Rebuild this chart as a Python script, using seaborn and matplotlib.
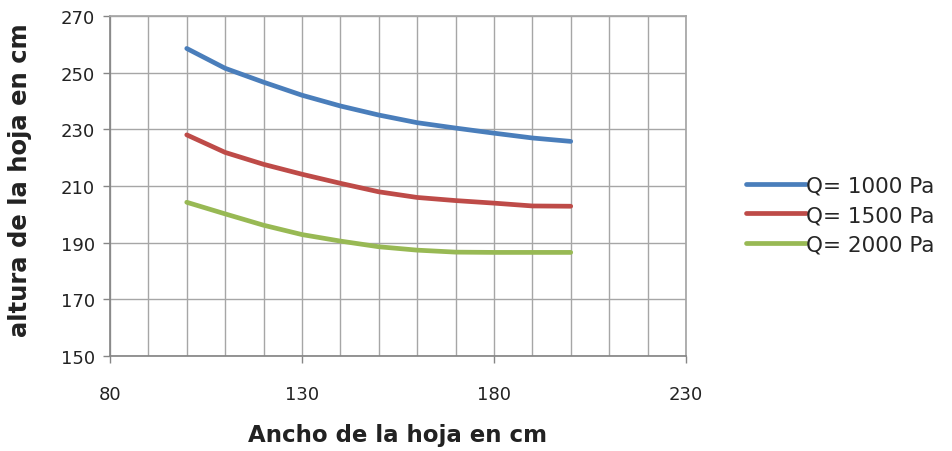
import matplotlib
matplotlib.use("Agg")
import matplotlib.pyplot as plt
import seaborn as sns
import pandas as pd

ancho = [100, 110, 120, 130, 140, 150, 160, 170, 180, 190, 200]
q1000 = [258.6, 251.6, 246.7, 242.1, 238.3, 235.1, 232.4, 230.5, 228.7, 227.0, 225.8]
q1500 = [228.1, 221.9, 217.7, 214.2, 211.0, 208.0, 206.0, 204.9, 204.0, 203.0, 202.9]
q2000 = [204.3, 200.2, 196.2, 192.9, 190.6, 188.6, 187.4, 186.7, 186.6, 186.6, 186.6]
series_names = ["Q= 1000 Pa", "Q= 1500 Pa", "Q= 2000 Pa"]
colors = ["#4A7EBB", "#BE4B48", "#98B954"]
x_ticks = [80, 130, 180, 230]
x_minor = list(range(80, 231, 10))
y_ticks = [150, 170, 190, 210, 230, 250, 270]

df = pd.concat([
    pd.DataFrame({"x": ancho, "y": vals, "serie": name})
    for vals, name in zip([q1000, q1500, q2000], series_names)
])

sns.set_theme(style="white")
plt.rcParams["font.family"] = ["DejaVu Sans"]

fig = plt.figure(figsize=(9.52, 4.52), dpi=100)
ax = fig.add_axes([0.1155, 0.21, 0.605, 0.752])
sns.lineplot(data=df, x="x", y="y", hue="serie", palette=colors, linewidth=3.4,
             ax=ax, legend=True)

ax.set_xlim(80, 230)
ax.set_ylim(150, 270)
ax.set_xticks(x_ticks)
ax.set_xticks(x_minor, minor=True)
ax.set_yticks(y_ticks)
ax.grid(True, which="both", axis="x", color="#a6a6a6", linewidth=1.0)
ax.grid(True, which="major", axis="y", color="#a6a6a6", linewidth=1.0)
ax.set_axisbelow(True)
for side in ["left", "bottom"]:
    ax.spines[side].set_color("#868686")
for side in ["top", "right"]:
    ax.spines[side].set_color("#a6a6a6")
ax.tick_params(axis="both", which="major", direction="out", length=5, width=1,
               color="#868686", labelsize=13, labelcolor="#222222", left=True, bottom=True)
ax.tick_params(axis="x", which="minor", length=0)
ax.tick_params(axis="x", pad=16)
ax.tick_params(axis="y", pad=6)

ax.set_xlabel("Ancho de la hoja en cm", fontsize=16.5, fontweight="bold", color="#222222", labelpad=14)
ax.set_ylabel("altura de la hoja en cm", fontsize=17.5, fontweight="bold", color="#222222", labelpad=14)
ax.yaxis.set_label_coords(-0.135, 0.52)

handles, labels = ax.get_legend_handles_labels()
leg = ax.legend(handles, labels, loc="center left", bbox_to_anchor=(1.07, 0.415),
                frameon=False, fontsize=15.5, handlelength=2.8, handletextpad=0.0,
                labelspacing=0.42)
for line in leg.get_lines():
    line.set_linewidth(3.4)

fig.savefig("out.png", dpi=100)
